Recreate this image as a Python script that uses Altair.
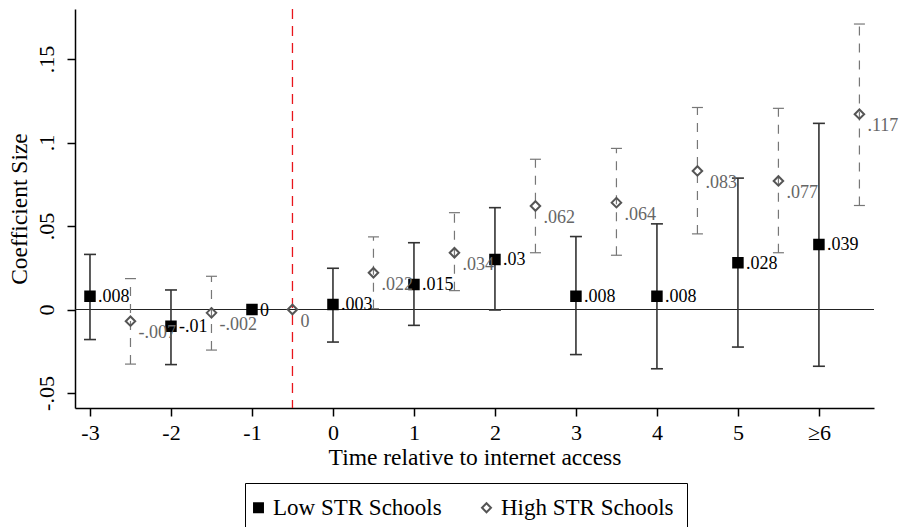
import altair as alt
import pandas as pd

# Event-study coefficients with 95% confidence bounds
low_x = [-3, -2, -1, 0, 1, 2, 3, 4, 5, 6]
low_est = [0.008, -0.01, 0, 0.003, 0.015, 0.03, 0.008, 0.008, 0.028, 0.039]
low_lo = [-0.018, -0.033, None, -0.0195, -0.0095, -0.0003, -0.027, -0.0355, -0.0225, -0.034]
low_hi = [0.033, 0.0117, None, 0.0247, 0.040, 0.061, 0.0437, 0.0513, 0.0787, 0.1115]

high_x = [-2.5, -1.5, -0.5, 0.5, 1.5, 2.5, 3.5, 4.5, 5.5, 6.5]
high_est = [-0.007, -0.002, 0, 0.022, 0.034, 0.062, 0.064, 0.083, 0.077, 0.117]
high_lo = [-0.0327, -0.0243, None, 0.0005, 0.0113, 0.034, 0.0325, 0.0453, 0.034, 0.0623]
high_hi = [0.0185, 0.0199, None, 0.0435, 0.058, 0.090, 0.0965, 0.121, 0.1205, 0.171]

series_names = ["Low STR Schools", "High STR Schools"]
x_ticks = [-3, -2, -1, 0, 1, 2, 3, 4, 5, 6]
y_ticks = [-0.05, 0, 0.05, 0.1, 0.15]
event_line = [-0.5]

df = pd.concat([
    pd.DataFrame({"series": series_names[0], "x": low_x, "est": low_est, "lo": low_lo, "hi": low_hi}),
    pd.DataFrame({"series": series_names[1], "x": high_x, "est": high_est, "lo": high_lo, "hi": high_hi}),
], ignore_index=True)

SERIF = "Liberation Serif"

x_scale = alt.Scale(domain=[-3.185, 6.68], nice=False, zero=False)
y_scale = alt.Scale(domain=[-0.059, 0.18], nice=False, zero=False)

x_axis = alt.Axis(
    values=x_ticks,
    labelExpr="datum.value == 6 ? '≥6' : toString(datum.value)",
    title="Time relative to internet access",
    labelPadding=6, titlePadding=2,
)
y_axis = alt.Axis(
    values=y_ticks,
    labelExpr="datum.value == 0 ? '0' : replace(toString(datum.value), '0.', '.')",
    labelAngle=270, labelAlign="center", labelBaseline="bottom",
    title="Coefficient Size",
    labelPadding=9, titlePadding=4,
)

def X(field):
    return alt.X(field, scale=x_scale, axis=x_axis)

def Y(field):
    return alt.Y(field, scale=y_scale, axis=y_axis)

base = alt.Chart(df)
is_low = alt.datum.series == series_names[0]
is_high = alt.datum.series == series_names[1]
has_ci = "isValid(datum.lo)"

zero_line = alt.Chart(pd.DataFrame({"y": [0]})).mark_rule(
    color="#222", strokeWidth=1.2
).encode(y=Y("y:Q"))

red_line = alt.Chart(pd.DataFrame({"x": event_line})).mark_rule(
    color="#e8151b", strokeWidth=1.3, strokeDash=[10, 7]
).encode(x=X("x:Q"))

low_ci = base.transform_filter(is_low).transform_filter(has_ci).mark_rule(
    color="#333", strokeWidth=1.6
).encode(x=X("x:Q"), y=Y("lo:Q"), y2="hi:Q")

low_caps = base.transform_filter(is_low).transform_filter(has_ci).transform_fold(
    ["lo", "hi"], as_=["bound", "value"]
).mark_tick(orient="horizontal", size=12, thickness=1.6, color="#333", opacity=1).encode(
    x=X("x:Q"), y=Y("value:Q")
)

high_ci = base.transform_filter(is_high).transform_filter(has_ci).mark_rule(
    color="#777", strokeWidth=1.2, strokeDash=[9, 8]
).encode(x=X("x:Q"), y=Y("lo:Q"), y2="hi:Q")

high_caps = base.transform_filter(is_high).transform_filter(has_ci).transform_fold(
    ["lo", "hi"], as_=["bound", "value"]
).mark_tick(orient="horizontal", size=11, thickness=1.2, color="#777", opacity=1).encode(
    x=X("x:Q"), y=Y("value:Q")
)

legend = alt.Legend(
    title=None, orient="none", legendX=170, legendY=474, direction="horizontal",
    strokeColor="black", padding=13, labelFont=SERIF, labelFontSize=23,
    labelColor="black", labelOffset=3, symbolOffset=-11, columnPadding=36, labelLimit=0,
    symbolSize=80, symbolStrokeWidth=2,
)

points = base.mark_point(size=90, strokeWidth=2, opacity=1, filled=True).encode(
    x=X("x:Q"),
    y=Y("est:Q"),
    shape=alt.Shape("series:N", scale=alt.Scale(domain=series_names, range=["square", "diamond"]), legend=legend),
    fill=alt.Fill("series:N", scale=alt.Scale(domain=series_names, range=["black", "transparent"]), legend=legend),
    stroke=alt.Stroke("series:N", scale=alt.Scale(domain=series_names, range=["black", "#555"]), legend=legend),
)

label_expr = "replace(toString(datum.est), '0.', '.')"

low_labels = base.transform_filter(is_low).transform_calculate(lab=label_expr).mark_text(
    align="left", baseline="middle", dx=8, dy=1, fontSize=18, font=SERIF, color="black"
).encode(x=X("x:Q"), y=Y("est:Q"), text="lab:N")

high_labels = base.transform_filter(is_high).transform_calculate(lab=label_expr).mark_text(
    align="left", baseline="middle", dx=8, dy=12, fontSize=18, font=SERIF, color="#666"
).encode(x=X("x:Q"), y=Y("est:Q"), text="lab:N")

chart = alt.layer(
    zero_line, red_line, low_ci, low_caps, high_ci, high_caps, points, low_labels, high_labels
).properties(
    width=799, height=399,
    autosize=alt.AutoSizeParams(type="none"),
    padding={"left": 75, "top": 9, "right": 27, "bottom": 119},
    background="white",
).configure_view(stroke=None).configure_axis(
    grid=False,
    domainColor="black", domainWidth=1.5,
    tickColor="black", tickWidth=1.5, tickSize=8,
    labelColor="black", titleColor="black",
    labelFont=SERIF, titleFont=SERIF,
    labelFontSize=22, titleFontSize=23.5, titleFontWeight="normal",
)

chart.save("out.html", embed_options={"renderer": "svg", "actions": False})
